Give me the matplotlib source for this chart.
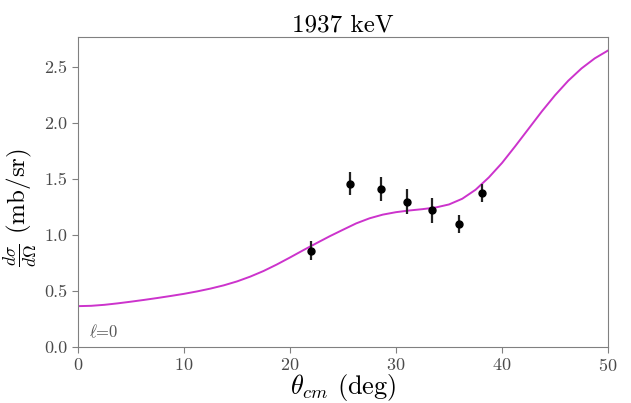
import numpy as np
import matplotlib
matplotlib.use('Agg')
import matplotlib.pyplot as plt

plt.rcParams['font.family'] = 'serif'
plt.rcParams['font.serif'] = ['cmr10']
plt.rcParams['mathtext.fontset'] = 'cm'
plt.rcParams['axes.formatter.use_mathtext'] = True
plt.rcParams['axes.unicode_minus'] = False

# measured cross sections
theta_exp = [22.0, 25.7, 28.55, 31.05, 33.4, 35.9, 38.1]
xs_exp = [0.86, 1.46, 1.41, 1.30, 1.22, 1.10, 1.375]
xs_err = [0.085, 0.105, 0.105, 0.11, 0.115, 0.08, 0.08]

# l=0 calculation
theta_calc = [0, 1.25, 2.5, 3.75, 5, 6.25, 7.5, 8.75, 10, 11.25, 12.5, 13.75,
              15, 16.25, 17.5, 18.75, 20, 21.25, 22.5, 23.75, 25, 26.25,
              27.5, 28.75, 30, 31.25, 32.5, 33.75, 35, 36.25, 37.5, 38.75,
              40, 41.25, 42.5, 43.75, 45, 46.25, 47.5, 48.75, 50]
xs_calc = [0.365, 0.368, 0.377, 0.390, 0.405, 0.421, 0.438, 0.456, 0.475, 0.497,
           0.522, 0.551, 0.586, 0.629, 0.679, 0.737, 0.800, 0.865, 0.928, 0.990,
           1.048, 1.105, 1.150, 1.183, 1.205, 1.220, 1.232, 1.247, 1.274, 1.325,
           1.405, 1.515, 1.645, 1.795, 1.950, 2.105, 2.250, 2.380, 2.490, 2.580, 2.650]

fig = plt.figure(figsize=(6.31, 4.03), dpi=100)
ax = fig.add_axes([0.1236, 0.139, 0.8400, 0.769])

ax.plot(theta_calc, xs_calc, color='#cc33cc', lw=1.4, solid_joinstyle='round')
ax.errorbar(theta_exp, xs_exp, yerr=xs_err, fmt='o', color='black',
            ms=5, elinewidth=1.6, ecolor='#222222')

ax.set_xlim(0, 50)
ax.set_ylim(0, 2.77)
ax.set_xticks([0, 10, 20, 30, 40, 50])
ax.set_yticks([0.0, 0.5, 1.0, 1.5, 2.0, 2.5])
ax.set_yticklabels(['0.0', '0.5', '1.0', '1.5', '2.0', '2.5'])

for s in ax.spines.values():
    s.set_color('#808080')
ax.tick_params(colors='#808080', labelcolor='#4a4a4a', labelsize=13, length=4)

ax.set_title('1937 keV', fontsize=18, pad=4)
ax.set_xlabel(r'$\theta_{cm}$ (deg)', fontsize=19, labelpad=-2)
ax.set_ylabel(r'$\frac{d\sigma}{d\Omega}$ (mb/sr)', fontsize=18)
ax.yaxis.set_label_coords(-0.072, 0.45)
ax.text(0.02, 0.03, r'$\ell$=0', transform=ax.transAxes, fontsize=12,
        color='#555555')

fig.savefig('out.png', dpi=100)
